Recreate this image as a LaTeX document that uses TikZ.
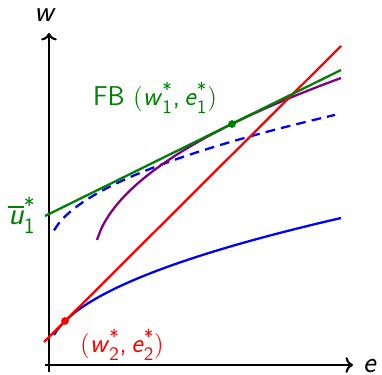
\documentclass[tikz,border=0pt]{standalone}
\usepackage{amsmath}
\usepackage{tikz}
\usetikzlibrary{arrows.meta,positioning,calc}
\definecolor{fbgreen}{RGB}{0,128,0}
\definecolor{fbpurple}{RGB}{128,0,128}
\definecolor{fbred}{RGB}{255,0,0}
\definecolor{fbblue}{RGB}{0,0,255}
\tikzset{
 axisline/.style={->, line width=1.2pt, black},
 curve/.style={line width=1.3pt, smooth, samples=60},
 dashcurve/.style={curve, dash pattern=on 5.5pt off 3.5pt},
 axislabel/.style={font=\fontsize{17}{19}\selectfont\sffamily, inner sep=0pt},
 ptlabel/.style={font=\fontsize{15.5}{18}\selectfont\sffamily, inner sep=0pt},
 ptdot/.style={circle, inner sep=0pt, minimum size=4.4pt},
}
% sans italic variable with star and index
\newcommand{\sv}[2]{\textit{#1}$^{\text{\sffamily *}}_{\text{\sffamily #2}}$}

\begin{document}
\begin{tikzpicture}[x=0.02cm, y=0.02cm]
\useasboundingbox (-49,-10) rectangle (333,365);

% axes
\draw[axisline] (-4,0) -- (304,0);
\draw[axisline] (0,-7) -- (0,332);
\node[axislabel] (wlab) at (-4,350) {\textit{w}};
\node[axislabel] (elab) at (321,-1) {\textit{e}};

% indifference curves
\draw[fbblue, curve] plot[domain=5:292] (\x, {12.5 + 7.87*sqrt(\x)});
\draw[fbblue, dashcurve] plot[domain=5:286] (\x, {117 + 7.87*sqrt(\x)});
\draw[fbpurple, curve] plot[domain=48:292] (\x, {105 + 11.58*sqrt(\x-45)});

% tangent lines
\coordinate (ra) at (-5,23);
\coordinate (rb) at (292,319);
\draw[fbred, curve] (ra) -- (rb);
\coordinate (ga) at (-4,149);
\coordinate (gb) at (292,295);
\draw[fbgreen, curve] (ga) -- (gb);

% optima
\node[ptdot, fill=fbred] (sb) at (16,44) {};
\node[ptdot, fill=fbgreen] (fb) at (183,241) {};

\node[ptlabel, text=fbgreen] (fblab) at (106,267)
  {FB $($\sv{w}{1},\,\sv{e}{1}$)$};
\node[ptlabel, text=fbgreen, font=\fontsize{18}{20}\selectfont\sffamily] (ulab) at (-27,150)
  {$\overline{\text{\sffamily\itshape u}}^{\text{\sffamily *}}_{\text{\sffamily 1}}$};
\node[ptlabel, text=fbred] (sblab) at (73,20) {$($\sv{w}{2},\,\sv{e}{2}$)$};

\end{tikzpicture}
\end{document}
